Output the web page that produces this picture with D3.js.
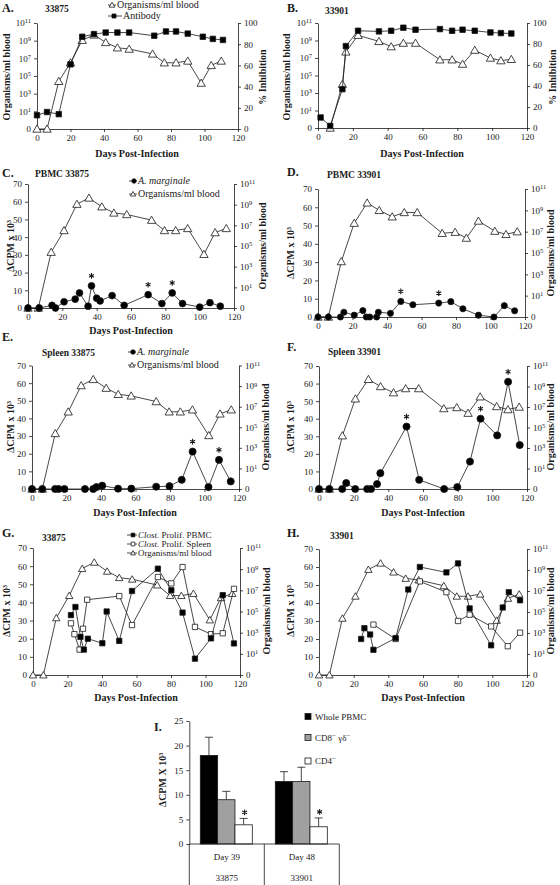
<!DOCTYPE html>
<html><head><meta charset="utf-8">
<script src="https://cdn.jsdelivr.net/npm/d3@7"></script>
<style>
body{margin:0;background:#fff;}
svg{font-family:'Liberation Serif','Times New Roman',serif;}
</style></head><body>
<svg id="c" width="560" height="885"></svg>
<script>
// ---------- tick data ----------
const dayTicks = [0,20,40,60,80,100,120];
const orgTickExps = [-1,1,3,5,7,9,11];   // log10 exponents; -1 is shown as "0"
const cpmTicks = [0,10,20,30,40,50,60,70];
const pctTicks = [0,20,40,60,80,100];
const barTicks = [0,5,10,15,20,25];

// ---------- Panel A (33875) ----------
const orgDaysA = [0,6,13,20,27,34,41,48,55,69,76,83,90,98,104,110];
const orgLogA  = [-1,-1,4.4,6.5,9.05,9.65,8.8,8.2,8.05,7.5,6.5,6.5,6.7,4.2,6.2,6.7];
const abDaysA  = [0,6,13,20,27,34,41,48,55,70,77,83,90,99,105,111];
const abA      = [13,16,14,61,87,89.5,91,91,91,88,92,92,90,87,85,84];

// ---------- Panel B (33901) ----------
const orgDaysB = [7,14,16,23,35,42,49,56,70,77,83,90,99,105,111];
const orgLogB  = [-1,4,7.7,9.6,8.9,8.3,8.7,8.7,6.8,6.8,6.3,7.9,7.0,6.7,6.85];
const abDaysB  = [1.5,7,14,16,23,35,42,49,56,70,77,83,90,99,105,111];
const abB      = [10,2,37,78,92.6,92,92.6,95.5,93.6,94.2,92.6,93.6,92.6,91,90.4,90];

// ---------- organisms/ml blood used in C-H ----------
const orgDaysCH  = [0,6,13.5,21,28.5,35.5,43,50,57.5,72,79.5,86,93,102.5,109,115.5];
const orgLog33875 = [-1,-1,4.4,6.5,9.05,9.65,8.8,8.2,8.05,7.5,6.5,6.5,6.7,4.2,6.3,6.7];
const orgLog33901 = [-1,-1,4.2,7.8,9.7,9.0,8.4,8.8,8.8,6.85,6.95,6.4,8.0,7.05,6.75,7.0];

// ---------- C: PBMC 33875 (A. marginale) ----------
const amDaysC = [0,6.5,14,16,21,27.5,30,35,37,40,42,49,56,70,78,84,90,100,106,112];
const amC     = [0,0,1.5,0,3.5,5,8.5,1,12.5,5.5,4,7,1.5,7.5,2.5,8.5,2.5,0.5,3,1];
const starC   = [37,70,84];
// ---------- D: PBMC 33901 ----------
const amDaysD = [0,6,13,15,21,26,28,30,34,35,42,48,55,70,77,84,93,102,108,114];
const amD     = [0,0,0,2.6,1,3.5,0,0,0,2.6,2,8.5,6.7,7.6,8.4,4.5,1,0,6.2,3.4];
const starD   = [48,70];
// ---------- E: Spleen 33875 ----------
const amDaysE = [0,6,13.4,15.4,18.8,30.7,35.5,37.4,40.7,49.9,57.6,72,79.7,86.8,93.1,102.3,108.4,115.2];
const amE     = [0,0,0,0,0,0,0,1.1,1.9,0.2,0.2,1.3,1.6,5.2,21.2,1.1,16.5,4.3];
const starE   = [93.1,108.4];
// ---------- F: Spleen 33901 ----------
const amDaysF = [0,6,13.4,15.7,20.9,27.8,30,33.5,35.4,50.5,57.8,72.2,79.8,87.1,93.2,102.8,109.1,115.8];
const amF     = [0,0,0,3.4,0,0,0,2.8,9,35.5,5.2,0,1.1,15.6,40,30.5,61,25];
const starF   = [50.5,93.2,109.1];

// ---------- G: 33875 Clost. ----------
const clDaysPbmcG = [22,24.6,27.5,29.5,31.8,40.2,42.7,50,57.4,72.4,80.2,86.7,93.9,103.2,110,116.5];
const clPbmcG     = [33,37.5,21,14,20,17.5,35,18.8,46.3,58.6,46.7,34.4,9,20.2,44,17.4];
const clDaysSplG  = [22,24,27,29,31.4,50,57.4,72.4,80.2,86.7,93.9,103.2,110,116.5];
const clSplG      = [28.5,22.5,14,25.5,41.5,43.5,27.5,54,50.5,59.5,26.5,22.5,23,47.5];
// ---------- H: 33901 Clost. ----------
const clDaysPbmcH = [24.3,26.2,29.5,31.4,44.2,51.5,58.2,73.5,80.2,86.9,99.3,106,109.5,116];
const clPbmcH     = [20,26,22.5,14,20.5,47.5,60,57,62,37,16.5,37.5,46,41.5];
const clDaysSplH  = [31.4,44.2,58.2,73.5,80.2,86.9,99.3,108.9,116];
const clSplH      = [28,20,52,46,30,33.5,27,16,23.5];

// ---------- I: bars ----------
const groupsI  = ['Day 39','Day 48'];
const animalsI = ['33875','33901'];
const seriesI  = ['Whole PBMC','CD8','CD4'];
const meansI   = [[18,9,3.9],[12.7,12.7,3.5]];
const errI     = [[3.7,1.7,1.3],[2.0,2.9,1.8]];
const starI    = [[0,0,1],[0,0,1]];
const barFill  = ['#000000','#a0a0a0','#ffffff'];

// ================= drawing =================
const svg = d3.select('#c');
const INK = '#1a1a1a';

function supLabels(axisG){
  axisG.selectAll('.tick text').each(function(d){
    const t = d3.select(this); t.text('');
    if (d === -1) { t.text('0'); return; }
    t.append('tspan').text('10');
    t.append('tspan').attr('dy','-0.45em').attr('font-size','0.72em').text(d);
  });
}
function styleAxis(a){
  a.selectAll('path,line').attr('stroke',INK).attr('stroke-width',0.8);
  a.selectAll('text').attr('font-size',9).attr('fill',INK).attr('font-family',"'Liberation Serif',serif");
}
function series(g, x, y, days, vals, shape, size, fill){
  const pts = days.map((d,i)=>[x(d), y(vals[i])]);
  g.append('path').attr('d', d3.line()(pts)).attr('fill','none').attr('stroke',INK).attr('stroke-width',0.8);
  const type = shape==='tri'?d3.symbolTriangle:shape==='sq'?d3.symbolSquare:d3.symbolCircle;
  g.selectAll(null).data(pts).join('path')
    .attr('transform', p=>`translate(${p[0]},${p[1] + (shape==='tri'?0.8:0)})`)
    .attr('d', d3.symbol().type(type).size(size))
    .attr('fill', fill).attr('stroke', INK).attr('stroke-width', 0.8);
}
function starMark(g, cx, cy){
  g.append('path').attr('transform',`translate(${cx},${cy})`)
    .attr('d', d3.symbol().type(d3.symbolAsterisk).size(22))
    .attr('fill','none').attr('stroke',INK).attr('stroke-width',1.1);
}
function stars(g, x, y, days, vals, starDays){
  starDays.forEach(sd=>{
    const i = days.indexOf(sd);
    starMark(g, x(days[i]), y(vals[i]) - 10);
  });
}
function txt(x, y, s, o={}){
  const t = svg.append('text').attr('x',x).attr('y',y).attr('font-size',o.size||10)
    .attr('font-weight',o.bold?'bold':'normal').attr('fill',INK)
    .attr('text-anchor',o.anchor||'start');
  if (o.italic) t.attr('font-style','italic');
  t.text(s);
  return t;
}
function vlabel(cx, cy, s){
  svg.append('text').attr('transform',`translate(${cx+3.5},${cy}) rotate(-90)`)
    .attr('text-anchor','middle').attr('font-weight','bold').attr('font-size',10).attr('fill',INK).text(s);
}
function legendItem(x, y, w, mx, shape, size, fill, label, italicPart, fs){
  svg.append('line').attr('x1',x).attr('x2',x+w).attr('y1',y).attr('y2',y).attr('stroke',INK).attr('stroke-width',0.8);
  const type = shape==='tri'?d3.symbolTriangle:shape==='sq'?d3.symbolSquare:d3.symbolCircle;
  svg.append('path').attr('transform',`translate(${mx},${y+(shape==='tri'?0.5:0)})`).attr('d',d3.symbol().type(type).size(size))
    .attr('fill',fill).attr('stroke',INK).attr('stroke-width',0.8);
  const t = svg.append('text').attr('x',x+w+1).attr('y',y+3.3).attr('font-size',fs).attr('fill',INK);
  if (italicPart){ t.append('tspan').attr('font-style','italic').text(italicPart); }
  t.append('tspan').text(label);
}

function panel(o){
  const g = svg.append('g');
  const x = d3.scaleLinear().domain([0,120]).range([o.x0,o.x1]);
  const yLog = d3.scaleLinear().domain([-1,11]).range([o.yb,o.yt]);
  const yPct = d3.scaleLinear().domain([0,100]).range([o.yb,o.yt]);
  const yCpm = d3.scaleLinear().domain([0,70]).range([o.yb,o.yt]);
  const ax = g.append('g').attr('transform',`translate(0,${o.yb})`)
    .call(d3.axisBottom(x).tickValues(dayTicks).tickSize(3).tickSizeOuter(0).tickPadding(3));
  styleAxis(ax);
  if (o.type==='ab'){
    const al = g.append('g').attr('transform',`translate(${o.x0},0)`)
      .call(d3.axisLeft(yLog).tickValues(orgTickExps).tickSize(3).tickSizeOuter(0).tickPadding(3));
    supLabels(al); styleAxis(al);
    const ar = g.append('g').attr('transform',`translate(${o.x1},0)`)
      .call(d3.axisRight(yPct).tickValues(pctTicks).tickSize(3).tickSizeOuter(0).tickPadding(3));
    styleAxis(ar);
  } else {
    const al = g.append('g').attr('transform',`translate(${o.x0},0)`)
      .call(d3.axisLeft(yCpm).tickValues(cpmTicks).tickSize(3).tickSizeOuter(0).tickPadding(3));
    styleAxis(al);
    const ar = g.append('g').attr('transform',`translate(${o.x1},0)`)
      .call(d3.axisRight(yLog).tickValues(orgTickExps).tickSize(3).tickSizeOuter(0).tickPadding(3));
    supLabels(ar); styleAxis(ar);
  }
  return {g, x, yLog, yPct, yCpm};
}

// ---- A ----
let p = panel({x0:37,x1:238,yt:23,yb:129,type:'ab'});
series(p.g,p.x,p.yLog,orgDaysA,orgLogA,'tri',30,'#fff');
series(p.g,p.x,p.yPct,abDaysA,abA,'sq',30,'#000');
txt(2,12,'A.',{bold:true,size:12}); txt(45,12,'33875',{bold:true,size:9.5});
legendItem(108,5,8,112,'tri',14,'#fff','Organisms/ml blood',null,10);
legendItem(108,16,14,114,'sq',16,'#000','Antibody',null,10);
vlabel(6,77,'Organisms/ml blood'); vlabel(262,77,'% Inhibition');
txt(137,157,'Days Post-Infection',{bold:true,size:10,anchor:'middle'});

// ---- B ----
p = panel({x0:318,x1:527,yt:23,yb:128,type:'ab'});
series(p.g,p.x,p.yLog,orgDaysB,orgLogB,'tri',30,'#fff');
series(p.g,p.x,p.yPct,abDaysB,abB,'sq',30,'#000');
txt(287,12,'B.',{bold:true,size:12}); txt(325,14,'33901',{bold:true,size:9.5});
vlabel(286,77,'Organisms/ml blood'); vlabel(552,77,'% Inhibition');
txt(422,157,'Days Post-Infection',{bold:true,size:10,anchor:'middle'});

// ---- C ----
p = panel({x0:28,x1:234,yt:184,yb:308,type:'cpm'});
series(p.g,p.x,p.yLog,orgDaysCH,orgLog33875,'tri',30,'#fff');
series(p.g,p.x,p.yCpm,amDaysC,amC,'circ',36,'#000');
stars(p.g,p.x,p.yCpm,amDaysC,amC,starC);
txt(2,177,'C.',{bold:true,size:12}); txt(35,177,'PBMC 33875',{bold:true,size:9.5});
legendItem(129,181,8,134,'circ',16,'#000','',' A. marginale',10);
legendItem(129,194,8,133,'tri',12,'#fff','Organisms/ml blood',null,10);
vlabel(10,246,'ΔCPM x 10³'); vlabel(262,246,'Organisms/ml blood');
txt(131,334,'Days Post-Infection',{bold:true,size:10,anchor:'middle'});

// ---- D ----
p = panel({x0:318,x1:525,yt:189,yb:317,type:'cpm'});
series(p.g,p.x,p.yLog,orgDaysCH,orgLog33901,'tri',30,'#fff');
series(p.g,p.x,p.yCpm,amDaysD,amD,'circ',30,'#000');
stars(p.g,p.x,p.yCpm,amDaysD,amD,starD);
txt(287,176,'D.',{bold:true,size:12}); txt(327,178,'PBMC 33901',{bold:true,size:9.5});
vlabel(290,253,'ΔCPM x 10³'); vlabel(550,253,'Organisms/ml blood');

// ---- E ----
p = panel({x0:32,x1:239,yt:365.5,yb:489,type:'cpm'});
series(p.g,p.x,p.yLog,orgDaysCH,orgLog33875,'tri',30,'#fff');
series(p.g,p.x,p.yCpm,amDaysE,amE,'circ',40,'#000');
stars(p.g,p.x,p.yCpm,amDaysE,amE,starE);
txt(2,341,'E.',{bold:true,size:12}); txt(42,356,'Spleen 33875',{bold:true,size:9.5});
legendItem(128,352,8,133,'circ',16,'#000','',' A. marginale',10);
legendItem(128,365,8,132,'tri',12,'#fff','Organisms/ml blood',null,10);
vlabel(10,427,'ΔCPM x 10³'); vlabel(265,427,'Organisms/ml blood');
txt(135,516,'Days Post-Infection',{bold:true,size:10,anchor:'middle'});

// ---- F ----
p = panel({x0:319,x1:527,yt:366,yb:489,type:'cpm'});
series(p.g,p.x,p.yLog,orgDaysCH,orgLog33901,'tri',30,'#fff');
series(p.g,p.x,p.yCpm,amDaysF,amF,'circ',40,'#000');
stars(p.g,p.x,p.yCpm,amDaysF,amF,starF);
txt(287,351,'F.',{bold:true,size:12}); txt(328,355,'Spleen 33901',{bold:true,size:9.5});
vlabel(290,427,'ΔCPM x 10³'); vlabel(550,427,'Organisms/ml blood');
txt(423,516,'Days Post-Infection',{bold:true,size:10,anchor:'middle'});

// ---- G ----
p = panel({x0:33,x1:240,yt:548,yb:675,type:'cpm'});
series(p.g,p.x,p.yLog,orgDaysCH,orgLog33875,'tri',24,'#fff');
series(p.g,p.x,p.yCpm,clDaysSplG,clSplG,'sq',28,'#fff');
series(p.g,p.x,p.yCpm,clDaysPbmcG,clPbmcG,'sq',28,'#000');
txt(2,537,'G.',{bold:true,size:12}); txt(42,541,'33875',{bold:true,size:9.5});
legendItem(127,535,10,133,'sq',14,'#000',' Prolif. PBMC','Clost.',9);
legendItem(127,544,10,133,'sq',14,'#fff',' Prolif. Spleen','Clost.',9);
legendItem(127,553,10,133,'tri',10,'#fff','Organisms/ml blood',null,9);
vlabel(6,611,'ΔCPM x 10³'); vlabel(266,611,'Organisms/ml blood');
txt(136,701,'Days Post-Infection',{bold:true,size:10,anchor:'middle'});

// ---- H ----
p = panel({x0:319,x1:527,yt:549,yb:675,type:'cpm'});
series(p.g,p.x,p.yLog,orgDaysCH,orgLog33875,'tri',24,'#fff');
series(p.g,p.x,p.yCpm,clDaysSplH,clSplH,'sq',28,'#fff');
series(p.g,p.x,p.yCpm,clDaysPbmcH,clPbmcH,'sq',28,'#000');
txt(287,537,'H.',{bold:true,size:12}); txt(330,539,'33901',{bold:true,size:9.5});
vlabel(290,611,'ΔCPM x 10³'); vlabel(550,611,'Organisms/ml blood');
txt(423,701,'Days Post-Infection',{bold:true,size:10,anchor:'middle'});

// ---- I ----
(function(){
  const g = svg.append('g');
  const y = d3.scaleLinear().domain([0,25]).range([844,721]);
  const x0 = d3.scaleBand().domain(groupsI).range([189.3,339.3]);
  const x1 = d3.scaleBand().domain(seriesI).range([11, x0.bandwidth()-12]);
  const al = g.append('g').attr('transform','translate(189.3,0)')
    .call(d3.axisLeft(y).tickValues(barTicks).tickSize(3).tickSizeOuter(0).tickPadding(3));
  styleAxis(al);
  groupsI.forEach((gr,gi)=>{
    seriesI.forEach((s,si)=>{
      const bx = x0(gr)+x1(s), bw = x1.bandwidth(), v = meansI[gi][si], e = errI[gi][si];
      const cx = bx + bw/2;
      g.append('line').attr('x1',cx).attr('x2',cx).attr('y1',y(v)).attr('y2',y(v+e)).attr('stroke',INK).attr('stroke-width',0.8);
      g.append('line').attr('x1',cx-4).attr('x2',cx+4).attr('y1',y(v+e)).attr('y2',y(v+e)).attr('stroke',INK).attr('stroke-width',0.8);
      g.append('rect').attr('x',bx).attr('y',y(v)).attr('width',bw).attr('height',y(0)-y(v))
        .attr('fill',barFill[si]).attr('stroke',INK).attr('stroke-width',0.8);
      if (starI[gi][si]) starMark(g, cx+1, y(v+e)-6);
    });
  });
  g.append('line').attr('x1',189.3).attr('x2',339.3).attr('y1',y(0)).attr('y2',y(0)).attr('stroke',INK).attr('stroke-width',0.8);
  const edges = [x0.range()[0], x0(groupsI[1]), x0.range()[1]];
  edges.forEach(ex=> g.append('line').attr('x1',ex).attr('x2',ex).attr('y1',y(0)).attr('y2',885).attr('stroke',INK).attr('stroke-width',0.8));
  groupsI.forEach((gr,gi)=>{
    const cx = x0(gr)+x0.bandwidth()/2;
    g.append('text').attr('x',cx).attr('y',860).attr('text-anchor','middle').attr('font-size',9).attr('fill',INK).text(gr);
    g.append('text').attr('x',cx).attr('y',881).attr('text-anchor','middle').attr('font-size',9).attr('fill',INK).text(animalsI[gi]);
  });
  txt(154,731,'I.',{bold:true,size:12});
  vlabel(162,780,'ΔCPM X 10³');
  const lg = [ ['Whole PBMC',''], ['CD8','γδ'], ['CD4',''] ];
  const ly = [716.5, 737.5, 761];
  lg.forEach((l,i)=>{
    g.append('rect').attr('x',305).attr('y',ly[i]-3).attr('width',6).attr('height',6).attr('fill',barFill[i]).attr('stroke',INK).attr('stroke-width',0.8);
    const t = g.append('text').attr('x',315).attr('y',ly[i]+3).attr('font-size',9).attr('fill',INK);
    if (i===0) t.text(l[0]);
    else {
      t.append('tspan').text(l[0]);
      t.append('tspan').attr('dy',-3).attr('font-size',7).text('−');
      if (l[1]){ t.append('tspan').attr('dy',3).text(' '+l[1]); t.append('tspan').attr('dy',-3).attr('font-size',7).text('−'); }
    }
  });
})();
</script>
</body></html>
